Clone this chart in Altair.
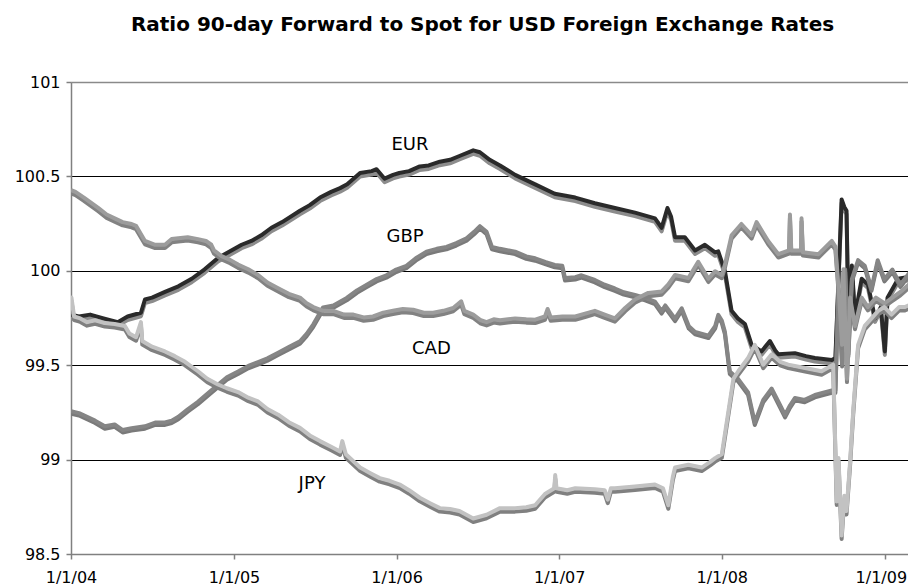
import altair as alt
import pandas as pd

# ---- data: time in years after 1/1/04, ratio value ----
eur_t = [0.00, 0.05, 0.12, 0.20, 0.29, 0.35, 0.43, 0.455, 0.50, 0.578, 0.66, 0.742, 0.824, 0.906, 0.988,
         1.05, 1.111, 1.17, 1.234, 1.30, 1.408, 1.47, 1.531, 1.60, 1.654, 1.70, 1.777, 1.85, 1.88, 1.93,
         1.98, 2.02, 2.08, 2.146, 2.20, 2.268, 2.33, 2.39, 2.474, 2.515, 2.576, 2.637, 2.73, 2.853, 2.976,
         3.10, 3.22, 3.345, 3.468, 3.59, 3.632, 3.668, 3.69, 3.713, 3.775, 3.836, 3.898, 3.96, 3.98, 4.021,
         4.062, 4.10, 4.144, 4.185, 4.246, 4.297, 4.33, 4.349, 4.451, 4.52, 4.574, 4.677, 4.70, 4.738,
         4.755, 4.769, 4.78, 4.80, 4.82, 4.861, 4.90, 4.943, 4.98, 5.004, 5.02, 5.086, 5.15, 5.20]
eur_v = [99.76, 99.75, 99.76, 99.74, 99.72, 99.75, 99.77, 99.84, 99.85, 99.88, 99.91, 99.95, 100.00, 100.06, 100.10,
         100.13, 100.15, 100.18, 100.22, 100.25, 100.31, 100.34, 100.38, 100.41, 100.43, 100.45, 100.51, 100.52, 100.53, 100.48,
         100.50, 100.51, 100.52, 100.545, 100.55, 100.57, 100.58, 100.60, 100.63, 100.62, 100.58, 100.55, 100.50, 100.45, 100.40,
         100.38, 100.35, 100.325, 100.30, 100.27, 100.22, 100.325, 100.28, 100.17, 100.17, 100.10, 100.13, 100.09, 100.095, 99.99,
         99.78, 99.74, 99.71, 99.60, 99.565, 99.62, 99.57, 99.55, 99.556, 99.54, 99.53, 99.52, 99.53, 100.37,
         100.33, 100.31, 99.78, 100.02, 99.75, 99.95, 99.92, 99.74, 99.80, 99.565, 99.85, 99.95, 99.96, 99.97]

gbp_t = [0.00, 0.05, 0.10, 0.15, 0.209, 0.27, 0.32, 0.373, 0.455, 0.52, 0.578, 0.62, 0.66, 0.72, 0.783,
         0.85, 0.906, 0.96, 1.029, 1.09, 1.152, 1.21, 1.275, 1.34, 1.408, 1.45, 1.49, 1.55, 1.613, 1.695,
         1.76, 1.818, 1.88, 1.941, 2.00, 2.064, 2.12, 2.187, 2.25, 2.31, 2.37, 2.433, 2.48, 2.515, 2.556,
         2.59, 2.637, 2.73, 2.80, 2.853, 2.92, 2.976, 3.02, 3.038, 3.10, 3.14, 3.22, 3.28, 3.345, 3.40,
         3.468, 3.53, 3.59, 3.632, 3.655, 3.713, 3.754, 3.80, 3.836, 3.918, 3.96, 3.98, 4.00, 4.021, 4.052,
         4.103, 4.164, 4.205, 4.256, 4.308, 4.35, 4.39, 4.42, 4.451, 4.51, 4.574, 4.63, 4.677, 4.70,
         4.72, 4.74, 4.76, 4.78, 4.80, 4.84, 4.88, 4.92, 4.96, 5.00, 5.05, 5.10, 5.15, 5.20]
gbp_v = [99.25, 99.24, 99.22, 99.20, 99.17, 99.18, 99.15, 99.16, 99.17, 99.19, 99.19, 99.20, 99.22, 99.26, 99.30,
         99.35, 99.39, 99.43, 99.46, 99.49, 99.51, 99.53, 99.56, 99.59, 99.62, 99.66, 99.71, 99.80, 99.81, 99.85,
         99.89, 99.92, 99.95, 99.97, 100.00, 100.02, 100.06, 100.095, 100.11, 100.12, 100.14, 100.166, 100.20, 100.23, 100.20,
         100.12, 100.11, 100.095, 100.07, 100.06, 100.04, 100.025, 100.02, 99.955, 99.96, 99.97, 99.945, 99.92, 99.90, 99.88,
         99.866, 99.85, 99.83, 99.78, 99.81, 99.74, 99.795, 99.70, 99.67, 99.65, 99.70, 99.76, 99.73, 99.67, 99.46,
         99.42, 99.35, 99.19, 99.31, 99.37, 99.30, 99.23, 99.28, 99.32, 99.31, 99.336, 99.35, 99.36, 99.36,
         99.90, 99.50, 100.00, 99.55, 99.95, 100.05, 100.02, 99.90, 100.05, 99.95, 100.00, 99.92, 99.98, 100.03]

cad_t = [0.00, 0.03, 0.08, 0.168, 0.22, 0.27, 0.32, 0.373, 0.40, 0.455, 0.52, 0.578, 0.62, 0.66, 0.72,
         0.783, 0.83, 0.865, 0.88, 0.926, 0.98, 1.029, 1.09, 1.152, 1.21, 1.275, 1.34, 1.408, 1.45, 1.49,
         1.55, 1.613, 1.68, 1.736, 1.80, 1.859, 1.92, 1.982, 2.04, 2.105, 2.17, 2.228, 2.29, 2.351, 2.40,
         2.42, 2.474, 2.52, 2.556, 2.60, 2.637, 2.73, 2.80, 2.853, 2.915, 2.93, 2.95, 3.02, 3.10, 3.16,
         3.22, 3.28, 3.345, 3.406, 3.468, 3.55, 3.632, 3.673, 3.713, 3.795, 3.857, 3.918, 3.96, 4.00, 4.021,
         4.062, 4.123, 4.185, 4.215, 4.287, 4.349, 4.415, 4.421, 4.428, 4.49, 4.492, 4.50, 4.595, 4.677, 4.70,
         4.72, 4.74, 4.75, 4.77, 4.79, 4.82, 4.86, 4.90, 4.95, 5.00, 5.05, 5.10, 5.15, 5.20]
cad_v = [100.42, 100.41, 100.38, 100.325, 100.29, 100.27, 100.25, 100.24, 100.23, 100.15, 100.13, 100.13, 100.16, 100.165, 100.17,
         100.16, 100.15, 100.13, 100.10, 100.07, 100.05, 100.025, 100.00, 99.97, 99.93, 99.90, 99.87, 99.85, 99.82, 99.80,
         99.78, 99.78, 99.76, 99.76, 99.745, 99.75, 99.77, 99.78, 99.79, 99.786, 99.77, 99.77, 99.78, 99.795, 99.83,
         99.78, 99.76, 99.73, 99.72, 99.735, 99.73, 99.74, 99.735, 99.733, 99.75, 99.79, 99.745, 99.75, 99.75, 99.765,
         99.78, 99.76, 99.74, 99.795, 99.84, 99.875, 99.883, 99.92, 99.97, 99.954, 100.04, 99.95, 99.99, 99.97, 100.025,
         100.18, 100.24, 100.18, 100.25, 100.15, 100.08, 100.10, 100.29, 100.10, 100.10, 100.27, 100.09, 100.08, 100.15, 100.12,
         99.90, 99.60, 100.00, 99.42, 99.85, 99.70, 99.85, 99.80, 99.85, 99.82, 99.85, 99.88, 99.92, 99.90]

jpy_t = [0.00, 0.005, 0.02, 0.06, 0.10, 0.15, 0.209, 0.27, 0.332, 0.36, 0.40, 0.43, 0.44, 0.50, 0.578,
         0.64, 0.701, 0.783, 0.84, 0.906, 0.96, 1.029, 1.09, 1.152, 1.21, 1.275, 1.34, 1.408, 1.47, 1.531,
         1.60, 1.654, 1.67, 1.69, 1.777, 1.84, 1.90, 1.96, 2.023, 2.08, 2.146, 2.21, 2.268, 2.33, 2.39,
         2.474, 2.556, 2.637, 2.73, 2.80, 2.853, 2.915, 2.972, 2.978, 2.985, 3.05, 3.10, 3.22, 3.28, 3.30,
         3.32, 3.345, 3.468, 3.59, 3.64, 3.673, 3.70, 3.713, 3.795, 3.877, 3.93, 3.96, 3.98, 4.00, 4.042,
         4.072, 4.103, 4.164, 4.205, 4.256, 4.308, 4.36, 4.41, 4.513, 4.615, 4.687, 4.708, 4.72, 4.738, 4.755,
         4.769, 4.789, 4.81, 4.84, 4.881, 4.92, 4.963, 5.00, 5.045, 5.09, 5.127, 5.15, 5.20]
jpy_v = [99.78, 99.85, 99.75, 99.74, 99.72, 99.73, 99.715, 99.71, 99.70, 99.66, 99.64, 99.72, 99.62, 99.59, 99.565,
         99.54, 99.51, 99.46, 99.42, 99.39, 99.37, 99.35, 99.32, 99.30, 99.26, 99.23, 99.19, 99.16, 99.12, 99.09,
         99.06, 99.035, 99.09, 99.02, 98.95, 98.92, 98.894, 98.88, 98.86, 98.83, 98.79, 98.76, 98.735, 98.73, 98.72,
         98.68, 98.70, 98.735, 98.735, 98.74, 98.75, 98.81, 98.84, 98.91, 98.84, 98.83, 98.84, 98.835, 98.83, 98.78,
         98.84, 98.84, 98.85, 98.86, 98.84, 98.75, 98.90, 98.95, 98.965, 98.95, 98.98, 99.00, 99.01, 99.02, 99.25,
         99.42, 99.46, 99.53, 99.60, 99.495, 99.55, 99.51, 99.495, 99.477, 99.46, 99.495, 98.77, 99.00, 98.59, 98.80,
         98.72, 98.98, 99.25, 99.60, 99.70, 99.74, 99.78, 99.80, 99.76, 99.80, 99.80, 99.81, 99.82]

# tick labels and series labels
y_ticks = [98.5, 99, 99.5, 100, 100.5, 101]
x_tick_years = [2004, 2005, 2006, 2007, 2008, 2009]
label_text = ["EUR", "GBP", "CAD", "JPY"]
label_t = [2.084, 2.056, 2.216, 1.482]
label_v = [100.642, 100.155, 99.5615, 98.846]

START = pd.Timestamp("2004-01-01")


def to_dates(ts):
    return [(START + pd.to_timedelta(t * 365.25, unit="D")).strftime("%Y-%m-%d") for t in ts]


frames = []
for name, ts, vs in [("EUR", eur_t, eur_v), ("GBP", gbp_t, gbp_v), ("CAD", cad_t, cad_v), ("JPY", jpy_t, jpy_v)]:
    frames.append(pd.DataFrame({"date": to_dates(ts), "value": vs, "cur": name}))
df = pd.concat(frames, ignore_index=True)

lab_df = pd.DataFrame({"date": to_dates(label_t), "value": label_v, "label": label_text})

FONT = "DejaVu Sans"

x_enc = alt.X(
    "date:T",
    scale=alt.Scale(type="utc",
                    domain=[alt.DateTime(year=2004, month=1, date=1, utc=True),
                            alt.DateTime(year=2009, month=2, date=22, utc=True)]),
    axis=alt.Axis(
        values=[alt.DateTime(year=y, month=1, date=1, utc=True) for y in x_tick_years],
        format="%-m/%-d/%y",
        title=None, grid=False,
        domainColor="#808080", domainWidth=1.5,
        tickColor="#808080", tickSize=5, tickWidth=1.5,
        labelFont=FONT, labelFontSize=16, labelColor="#000000",
        labelPadding=10, labelFlush=False, labelOverlap=False,
        labelOffset={"condition": {"test": "utcyear(datum.value) === 2009", "value": -4}, "value": 0},
    ),
)
y_enc = alt.Y(
    "value:Q",
    scale=alt.Scale(domain=[98.5, 101], nice=False, zero=False),
    axis=alt.Axis(
        values=y_ticks, format="~g", title=None,
        grid=True,
        gridColor={"condition": {"test": "datum.value === 101", "value": "#8a8a8a"}, "value": "#000000"},
        gridWidth={"condition": {"test": "datum.value === 101", "value": 1.5}, "value": 1},
        domainColor="#808080", domainWidth=1.5,
        tickColor="#808080", tickSize=5, tickWidth=1.5,
        labelFont=FONT, labelFontSize=16, labelColor="#000000",
        labelPadding=6, labelFlush=False, labelOverlap=False,
    ),
)

base = alt.Chart(df).encode(x=x_enc, y=y_enc)


def line(cur, color, off, width=4):
    return base.transform_filter(alt.datum.cur == cur).mark_line(
        color=color, strokeWidth=width, yOffset=off, clip=True, strokeJoin="round"
    )


layers = [
    line("EUR", "#8c8c8c", 2.0),
    line("EUR", "#2a2a2a", -1.5),
    line("GBP", "#7a7a7a", 1.2),
    line("GBP", "#858585", -1.2),
    line("CAD", "#828282", 1.8),
    line("CAD", "#9c9c9c", -1.5),
    line("JPY", "#808080", 2.0),
    line("JPY", "#c2c2c2", -1.5),
]

labels = alt.Chart(lab_df).mark_text(
    font=FONT, fontSize=18, color="#000000", align="center", baseline="alphabetic"
).encode(
    x=alt.X("date:T", scale=alt.Scale(type="utc")),
    y=alt.Y("value:Q"),
    text="label:N",
)

chart = alt.layer(*layers, labels).properties(
    width=837,
    height=472,
    padding={"left": 63, "top": 74, "right": 0, "bottom": 32},
    autosize=alt.AutoSizeParams(type="none"),
    title=alt.TitleParams(
        text="Ratio 90-day Forward to Spot for USD Foreign Exchange Rates",
        font=FONT, fontSize=20, fontWeight="bold", color="#000000",
        anchor="middle", dx=-7, offset=23, baseline="alphabetic",
    ),
).configure_view(strokeWidth=0).configure(background="#ffffff")

chart.save("out.html", embed_options={"renderer": "svg", "actions": False})
